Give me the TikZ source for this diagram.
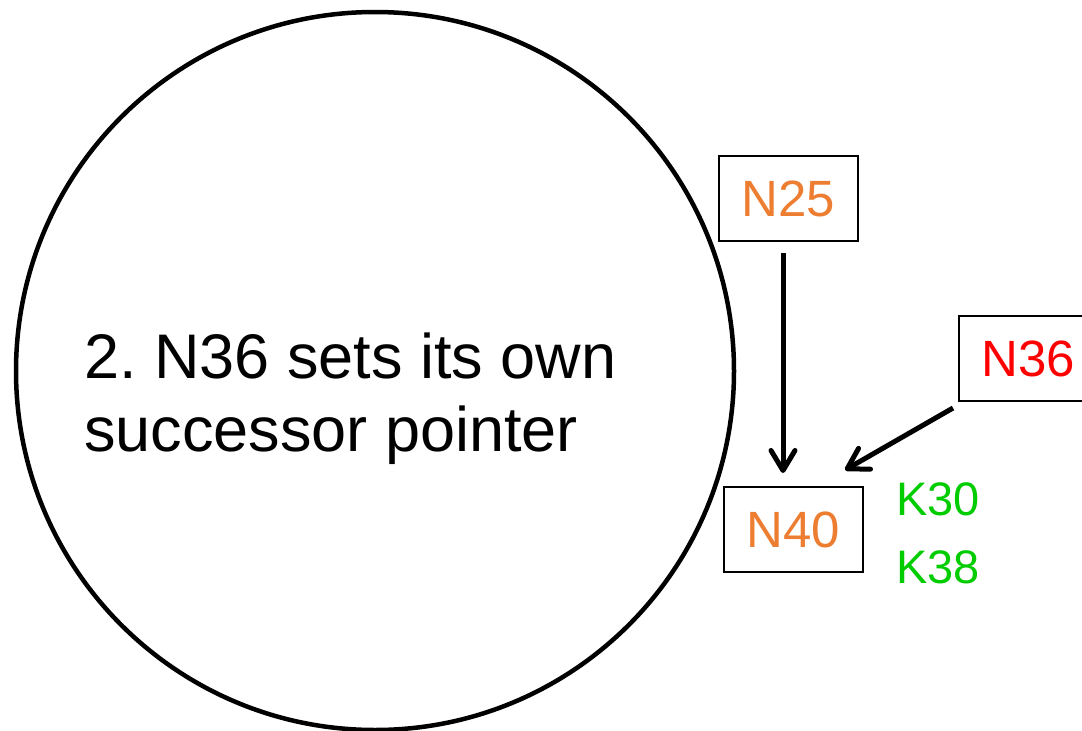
\documentclass[tikz,border=0pt]{standalone}
\usepackage{fontspec}
\setmainfont{Liberation Sans}
\usetikzlibrary{arrows.meta,calc}
\definecolor{nodeorange}{HTML}{ED7D31}
\definecolor{nodered}{HTML}{FF0000}
\definecolor{keygreen}{HTML}{00CC00}
\tikzset{
  ringnode/.style={draw, line width=2pt, minimum width=139pt, minimum height=85pt,
    inner sep=0pt, font=\fontsize{51}{60}\selectfont},
  keylabel/.style={anchor=base west, inner sep=0pt, text=keygreen,
    font=\fontsize{47}{56}\selectfont},
  ptr/.style={line width=5pt, -{Straight Barb[length=20pt,width=24pt,round]}}
}
\begin{document}
\begin{tikzpicture}[x=1pt, y=-1pt]
  \useasboundingbox (0,0) rectangle (1082,731);
  \clip (0,0) rectangle (1082,731);
  \fill[white] (0,0) rectangle (1082,731);

  % the ring
  \draw[line width=4.5pt] (375,371) circle[radius=359];
  % anchor sits on the baseline of the last line
  \node[anchor=base west, inner sep=0pt, align=left,
        font=\fontsize{63}{73}\selectfont] (caption) at (84,451)
        {2.\ N36 sets its own\\successor pointer};

  % nodes on the ring
  \node[ringnode, text=nodeorange] (N25) at (788.5,198.5) {N25};
  \node[ringnode, text=nodered]    (N36) at (1028.5,358.5) {N36};
  \node[ringnode, text=nodeorange] (N40) at (793.5,529.5) {N40};

  % keys held by N40
  \node[keylabel] (K30) at (896,515) {K30};
  \node[keylabel] (K38) at (896,583) {K38};

  % successor pointers
  \draw[ptr] ($(N25.south)+(-5.5,11)$) -- ($(N40.north)+(-10.5,-13)$);
  \draw[ptr] ($(N36.south west)+(-5,6)$) -- ($(N40.north east)+(-19,-16)$);
\end{tikzpicture}
\end{document}
